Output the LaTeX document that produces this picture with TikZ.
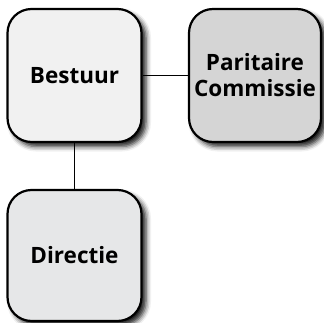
\documentclass[tikz,border=0pt]{standalone}
\usepackage{fontspec}
\setmainfont{Open Sans}
\usetikzlibrary{shadows.blur}
\definecolor{fillA}{HTML}{F1F1F1}
\definecolor{fillB}{HTML}{D5D5D5}
\definecolor{fillC}{HTML}{E6E7E8}
\tikzset{
  orgbox/.style={draw=black, line width=2.2pt, rounded corners=24pt,
    minimum width=134pt, minimum height=133pt, inner sep=0pt,
    align=center, font=\fontsize{22.5}{26}\selectfont\bfseries,
    blur shadow={shadow xshift=4.5pt, shadow yshift=-4.5pt, shadow blur radius=5pt, shadow opacity=90}},
  link/.style={draw=black, line width=1pt}
}
\begin{document}
\begin{tikzpicture}[x=1pt,y=-1pt]
\useasboundingbox (0,0) rectangle (323,323);
\node[orgbox, fill=fillA] (bestuur) at (74.5,75.5) {Bestuur};
\node[orgbox, fill=fillB, minimum width=132pt] (pc) at (255,75.5) {Paritaire\\Commissie};
\node[orgbox, fill=fillC, minimum height=131pt] (dir) at (74.5,255.5) {Directie};
\draw[link] (bestuur) -- (pc);
\draw[link] (bestuur) -- (dir);
\end{tikzpicture}
\end{document}
